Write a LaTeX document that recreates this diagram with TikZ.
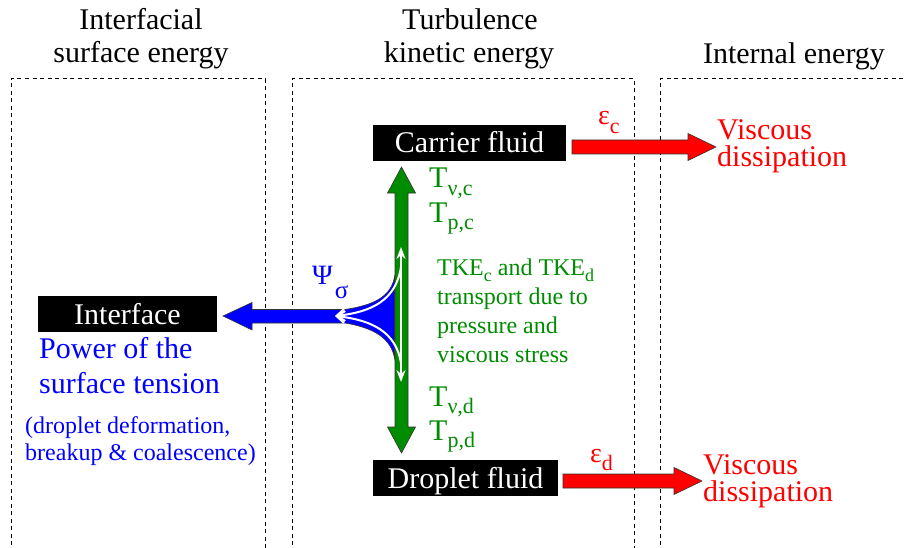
\documentclass[tikz,border=0pt]{standalone}
\usepackage{fontspec}
\setmainfont{Liberation Serif}
\usetikzlibrary{calc,arrows.meta}
\definecolor{dgreen}{RGB}{0,140,0}
\newcommand{\fsL}{\fontsize{30}{33}\selectfont}
\newcommand{\fsLt}{\fontsize{30}{27.5}\selectfont}
\newcommand{\fsM}{\fontsize{24}{27}\selectfont}
\newcommand{\fsS}{\fontsize{22}{24}\selectfont}
\newcommand{\fsXS}{\fontsize{18}{20}\selectfont}
\newcommand{\subL}[1]{\raisebox{-7pt}{\fsS #1}}
\newcommand{\subM}[1]{\raisebox{-6pt}{\fsXS #1}}
\newcommand{\redarrow}[2]{%
  \path[fill=red, outl] ($(#1)+(0,-7)$) -- ($(#2)+(-28,-7)$) -- ($(#2)+(-28,-13.5)$)
    -- (#2) -- ($(#2)+(-28,13.5)$) -- ($(#2)+(-28,7)$) -- ($(#1)+(0,7)$) -- cycle;}
\tikzset{
  txt/.style={inner sep=0pt, anchor=base west},
  hdr/.style={inner sep=0pt, anchor=base, font=\fsL},
  blackbox/.style={fill=black, text=white, font=\fsL, inner sep=0pt, text height=20pt, text depth=0pt, minimum height=36pt},
  zone/.style={draw=black, dash pattern=on 4pt off 3.5pt, line width=1pt},
  outl/.style={draw=black!80, line width=0.6pt},
  whitearr/.style={draw=white, line width=2pt},
  visc/.style={inner sep=0pt, anchor=north west, align=left, text=red, font=\fsLt},
}
\begin{document}
\begin{tikzpicture}[x=1pt,y=-1pt]
\useasboundingbox (0,0) rectangle (904,548);
\clip (0,0) rectangle (904,548);

% dashed zones
\draw[zone] (11,560) -- (11,79) -- (265,79) -- (265,560);
\draw[zone] (292,560) -- (292,79) -- (634,79) -- (634,560);
\draw[zone] (660,560) -- (660,79) -- (910,79);

% headers
\node[hdr] (h1a) at (141,30) {Interfacial};
\node[hdr] (h1b) at (141,63) {surface energy};
\node[hdr] (h2a) at (470,30) {Turbulence};
\node[hdr] (h2b) at (469,63) {kinetic energy};
\node[hdr] (h3a) at (794,64) {Internal energy};

% black boxes
\node[blackbox, minimum width=193pt] (carrier) at (469.5,143) {Carrier fluid};
\node[blackbox, minimum width=185pt] (droplet) at (465.5,478) {Droplet fluid};
\node[blackbox, minimum width=179pt] (iface) at (127.5,314) {Interface};

% green double arrow
\coordinate (gtop) at (401.5,167);
\coordinate (gbot) at (401.5,453);
\path[fill=dgreen, outl] (gtop) -- ++(14,26) -- ++(-7.5,0) -- ($(gbot)+(6.5,-26)$) -- ++(7.5,0)
  -- (gbot) -- ++(-14,-26) -- ++(7.5,0) -- ($(gtop)+(-6.5,26)$) -- ++(-7.5,0) -- cycle;

% blue arrow with fan
\coordinate (btip) at (223,316);
\path[fill=blue, outl] (btip) -- (252,302.5) -- (252,309.5) -- (345,309.5)
  .. controls (375,305) and (391,296) .. (394.5,277) -- (394.5,358)
  .. controls (391,339) and (375,328) .. (345,323) -- (252,323) -- (252,330) -- cycle;

% white streamlines
\coordinate (wtop) at (401,247);
\coordinate (wbot) at (401,382);
\coordinate (wleft) at (335,316);
\draw[whitearr, {Stealth[length=12pt,width=9pt]}-{Stealth[length=12pt,width=9pt]}] (wtop) -- (wbot);
\draw[whitearr, -{Straight Barb[length=8pt,width=12pt]}] (401,267) .. controls (396,300) and (372,312) .. (wleft);
\draw[whitearr, -{Straight Barb[length=8pt,width=12pt]}] (401,363) .. controls (396,332) and (372,320) .. (wleft);

% red arrows
\coordinate (r1s) at (572,147);
\coordinate (r1e) at (716,147);
\coordinate (r2s) at (563,481);
\coordinate (r2e) at (702,481);
\redarrow{r1s}{r1e}
\redarrow{r2s}{r2e}

% red texts
\node[visc] (vd1) at (717,119) {Viscous\\dissipation};
\node[visc] (vd2) at (703,454) {Viscous\\dissipation};
\node[txt, text=red] (epsc) at (598,125) {\fontsize{28}{30}\selectfont ε\raisebox{-9pt}{\fsS c}};
\node[txt, text=red] (epsd) at (590,462) {\fontsize{28}{30}\selectfont ε\raisebox{-8pt}{\fsS d}};

% green texts
\node[txt, text=dgreen, font=\fsL] (tvc) at (429,188) {T\subL{ν,c}};
\node[txt, text=dgreen, font=\fsL] (tpc) at (429,222) {T\subL{p,c}};
\node[txt, text=dgreen, font=\fsL] (tvd) at (429,406) {T\subL{ν,d}};
\node[txt, text=dgreen, font=\fsL] (tpd) at (429,440) {T\subL{p,d}};
\node[txt, text=dgreen, font=\fsM] (tke1) at (437,275) {TKE\subM{c} and TKE\subM{d}};
\node[txt, text=dgreen, font=\fsM] (tke2) at (437,304) {transport due to};
\node[txt, text=dgreen, font=\fsM] (tke3) at (437,333) {pressure and};
\node[txt, text=dgreen, font=\fsM] (tke4) at (437,362) {viscous stress};

% blue texts
\node[txt, text=blue] (psi) at (312,284) {\fontsize{28}{30}\selectfont Ψ\hspace{2pt}\raisebox{-14pt}{\fontsize{25}{27}\selectfont σ}};
\node[txt, text=blue, font=\fsL] (pw1) at (39,358) {Power of the};
\node[txt, text=blue, font=\fsL] (pw2) at (39,393) {surface tension};
\node[txt, text=blue, font=\fsM] (dd1) at (25,433) {(droplet deformation,};
\node[txt, text=blue, font=\fsM] (dd2) at (25,460) {breakup \& coalescence)};
\end{tikzpicture}
\end{document}
